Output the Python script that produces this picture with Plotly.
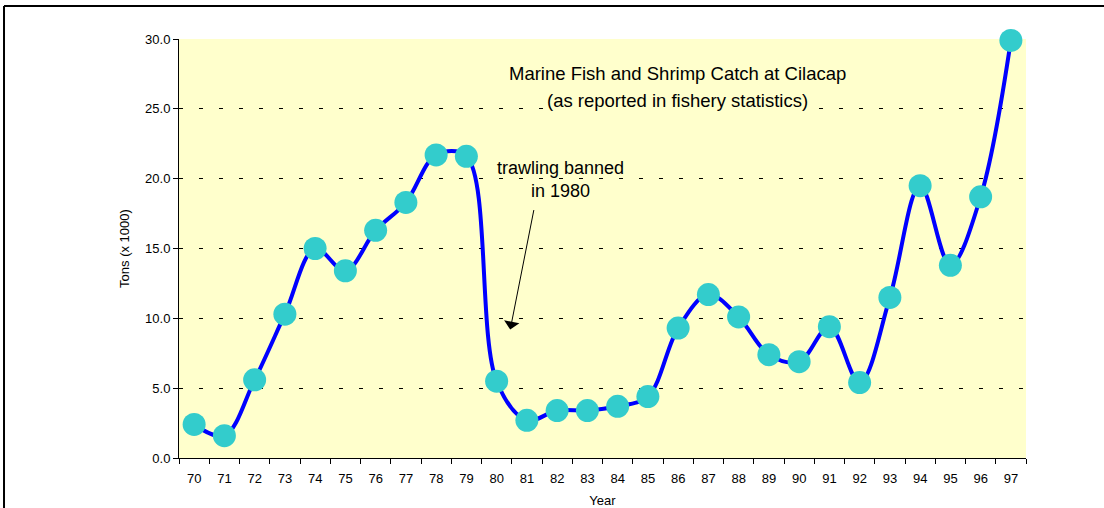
import plotly.graph_objects as go

years = list(range(70, 98))
year_labels = [str(y) for y in years]
catch = [2.4, 1.6, 5.6, 10.3, 15.0, 13.4, 16.3, 18.3, 21.7, 21.6,
         5.5, 2.7, 3.4, 3.4, 3.7, 4.4, 9.3, 11.7, 10.1, 7.4,
         6.9, 9.4, 5.4, 11.5, 19.5, 13.8, 18.7, 29.9]
y_ticks = [0, 5, 10, 15, 20, 25, 30]
y_tick_labels = ["0.0", "5.0", "10.0", "15.0", "20.0", "25.0", "30.0"]
title_lines = ["Marine Fish and Shrimp Catch at Cilacap",
               "(as reported in fishery statistics)"]

FONT = "Arial, Liberation Sans, sans-serif"

fig = go.Figure()
fig.add_trace(go.Scatter(
    x=years, y=catch, mode="lines+markers",
    line=dict(color="#0000FF", width=4, shape="spline", smoothing=1.0),
    marker=dict(color="#33CCCC", size=23, line=dict(width=0)),
    cliponaxis=False, showlegend=False,
))

fig.update_layout(
    width=1104, height=508,
    margin=dict(l=179, r=78, t=39, b=50, autoexpand=False),
    paper_bgcolor="white", plot_bgcolor="#FFFFCC",
    font=dict(family=FONT, size=13, color="black"),
    xaxis=dict(
        range=[69.5, 97.5], tickvals=years, ticktext=year_labels,
        ticks="", showgrid=False, zeroline=False, automargin=False,
        showline=True, linecolor="black", linewidth=1,
        tickfont=dict(size=13), ticklabelstandoff=8,
        minor=dict(ticks="outside", tick0=69.5, dtick=1, ticklen=5,
                   tickcolor="black", showgrid=False),
        title=dict(text="Year", font=dict(size=13), standoff=12),
    ),
    yaxis=dict(
        range=[0, 30], tickvals=y_ticks, ticktext=y_tick_labels,
        ticks="outside", ticklen=5, tickcolor="black", automargin=False,
        showgrid=True, gridcolor="black", gridwidth=1, griddash="4px,16px",
        zeroline=False, showline=True, linecolor="black", linewidth=1,
        tickfont=dict(size=13),
        title=dict(text="Tons (x 1000)", font=dict(size=13), standoff=12),
    ),
)

# title lines inside plot (page y ~74 and ~100)
for txt, py in zip(title_lines, [74, 100]):
    fig.add_annotation(
        x=0.588, y=(458 - py) / 419, xref="paper", yref="paper",
        xanchor="center", yanchor="middle",
        text=txt, showarrow=False, font=dict(size=18.5, family=FONT),
        bgcolor="#FFFFCC", borderpad=0,
    )

fig.add_annotation(
    x=80.45, y=9.2, ax=81.24, ay=17.86, xref="x", yref="y", axref="x", ayref="y",
    text="", showarrow=True, arrowhead=1, arrowsize=2.6, arrowwidth=1, arrowcolor="black",
    standoff=0,
)
fig.add_annotation(
    x=82.1, y=19.96, xref="x", yref="y",
    text="trawling banned<br>in 1980", showarrow=False,
    font=dict(size=18, family=FONT), align="center",
)

# outer frame (top and left edges)
fig.add_shape(type="line", xref="paper", yref="paper",
              x0=-0.2066, y0=1.0788, x1=1.2, y1=1.0788,
              line=dict(color="black", width=2))
fig.add_shape(type="line", xref="paper", yref="paper",
              x0=-0.2066, y0=1.0788, x1=-0.2066, y1=-0.2,
              line=dict(color="black", width=2))

fig.write_html("out.html", config={"displayModeBar": False},
               post_script="document.body.style.margin='0';")
